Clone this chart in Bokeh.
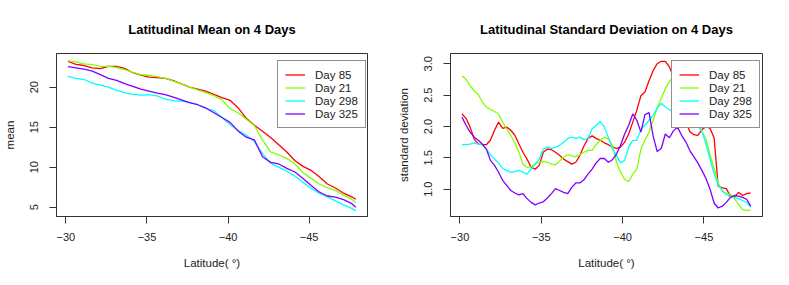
from bokeh.plotting import figure
from bokeh.layouts import row
from bokeh.models import Range1d, FixedTicker, Legend, LegendItem
from bokeh.embed import file_html
from bokeh.resources import INLINE

# ---------------- data ----------------
days = ["Day 85", "Day 21", "Day 298", "Day 325"]
colors = ["#FF0000", "#80FF00", "#00FFFF", "#8000FF"]

x_ticks = [-30, -35, -40, -45]
x_tick_labels = ["\u221230", "\u221235", "\u221240", "\u221245"]
mean_ticks = [5, 10, 15, 20]
mean_tick_labels = ["5", "10", "15", "20"]
sd_ticks = [1.0, 1.5, 2.0, 2.5, 3.0]
sd_tick_labels = ["1.0", "1.5", "2.0", "2.5", "3.0"]

lat_mean = [-30.125, -30.625, -31.125, -31.625, -32.125, -32.625, -33.125, -33.625,
            -34.125, -34.625, -35.125, -35.625, -36.125, -36.625, -37.125, -37.625,
            -38.125, -38.625, -39.125, -39.625, -40.125, -40.625, -41.125, -41.625,
            -42.125, -42.625, -43.125, -43.625, -44.125, -44.625, -45.125, -45.625,
            -46.125, -46.625, -47.125, -47.625, -47.875]

mean_day85 = [23.2, 22.85, 22.7, 22.4, 22.3, 22.6, 22.6, 22.35, 21.8, 21.5, 21.25, 21.2,
              21.1, 20.8, 20.4, 20.0, 19.75, 19.5, 19.1, 18.7, 18.35, 17.4, 16.1, 15.25,
              14.5, 13.7, 12.8, 11.9, 10.8, 10.1, 9.6, 8.8, 7.9, 7.4, 6.75, 6.3, 6.0]
mean_day21 = [23.3, 23.15, 22.9, 22.8, 22.6, 22.6, 22.45, 22.2, 21.85, 21.55, 21.45, 21.3,
              21.1, 20.75, 20.4, 20.0, 19.65, 19.3, 18.95, 18.4, 17.3, 16.8, 16.0, 15.2,
              13.4, 11.9, 11.55, 11.1, 10.4, 9.3, 8.6, 7.9, 7.45, 7.1, 6.5, 6.0, 5.6]
mean_day298 = [21.35, 21.1, 20.95, 20.5, 20.25, 20.0, 19.6, 19.3, 19.1, 19.0, 19.05, 18.9,
               18.5, 18.3, 18.25, 18.05, 17.8, 17.35, 17.05, 16.2, 15.3, 14.6, 14.0, 13.2,
               11.7, 10.5, 10.0, 9.5, 8.9, 8.1, 7.35, 6.75, 6.3, 5.8, 5.3, 4.85, 4.55]
mean_day325 = [22.55, 22.4, 22.25, 22.0, 21.55, 21.1, 20.85, 20.45, 20.1, 19.75, 19.5, 19.25,
               19.05, 18.75, 18.4, 18.05, 17.8, 17.4, 16.8, 16.2, 15.6, 14.5, 13.75, 13.4,
               11.3, 10.6, 10.4, 9.85, 9.4, 8.6, 7.7, 6.9, 6.4, 6.25, 5.95, 5.45, 5.0]

lat_sd = [-30.125, -30.375, -30.625, -30.875, -31.125, -31.375, -31.625, -31.875,
          -32.125, -32.375, -32.625, -32.875, -33.125, -33.375, -33.625, -33.875,
          -34.125, -34.375, -34.625, -34.875, -35.125, -35.375, -35.625, -35.875,
          -36.125, -36.375, -36.625, -36.875, -37.125, -37.375, -37.625, -37.875,
          -38.125, -38.375, -38.625, -38.875, -39.125, -39.375, -39.625, -39.875,
          -40.125, -40.375, -40.625, -40.875, -41.125, -41.375, -41.625, -41.875,
          -42.125, -42.375, -42.625, -42.875, -43.125, -43.375, -43.625, -43.875,
          -44.125, -44.375, -44.625, -44.875, -45.125, -45.375, -45.625, -45.875,
          -46.125, -46.375, -46.625, -46.875, -47.125, -47.375, -47.625, -47.875]

sd_day85 = [2.20, 2.13, 1.99, 1.80, 1.72, 1.71, 1.71, 1.78, 1.94, 2.07, 1.97, 1.99,
            1.94, 1.86, 1.72, 1.59, 1.48, 1.35, 1.32, 1.38, 1.59, 1.64, 1.63, 1.59,
            1.54, 1.48, 1.44, 1.40, 1.43, 1.54, 1.69, 1.81, 1.85, 1.81, 1.78, 1.74,
            1.71, 1.67, 1.65, 1.67, 1.75, 1.88, 2.07, 2.26, 2.49, 2.55, 2.73, 2.89,
            3.00, 3.04, 3.04, 2.95, 2.80, 2.60, 2.35, 2.10, 1.92, 1.87, 1.86, 1.95,
            2.00, 1.97, 1.82, 1.05, 1.02, 1.01, 0.89, 0.88, 0.95, 0.90, 0.93, 0.94]
sd_day21 = [2.81, 2.75, 2.65, 2.57, 2.51, 2.39, 2.31, 2.27, 2.24, 2.20, 2.07, 1.96,
            1.86, 1.74, 1.59, 1.40, 1.35, 1.36, 1.40, 1.43, 1.44, 1.43, 1.40, 1.39,
            1.45, 1.51, 1.55, 1.53, 1.52, 1.55, 1.59, 1.62, 1.62, 1.71, 1.78, 1.83,
            1.80, 1.70, 1.43, 1.27, 1.16, 1.12, 1.24, 1.32, 1.64, 1.78, 1.91, 2.10,
            2.30, 2.45, 2.60, 2.72, 2.80, 2.85, 2.75, 2.55, 2.35, 2.20, 2.05, 1.92,
            1.80, 1.55, 1.33, 1.10, 0.97, 0.93, 0.92, 0.85, 0.76, 0.68, 0.66, 0.67]
sd_day298 = [1.71, 1.71, 1.72, 1.74, 1.72, 1.71, 1.64, 1.55, 1.48, 1.42, 1.33, 1.30,
             1.27, 1.28, 1.30, 1.27, 1.24, 1.32, 1.40, 1.48, 1.64, 1.67, 1.65, 1.67,
             1.70, 1.75, 1.81, 1.83, 1.81, 1.83, 1.79, 1.81, 1.96, 2.02, 2.08, 1.99,
             1.83, 1.64, 1.54, 1.42, 1.46, 1.67, 1.78, 1.78, 1.95, 2.02, 2.10, 2.18,
             2.29, 2.37, 2.31, 2.27, 2.25, 2.20, 2.20, 2.15, 2.10, 2.05, 2.00, 1.93,
             1.72, 1.48, 1.25, 1.07, 0.98, 0.92, 0.88, 0.87, 0.85, 0.82, 0.79, 0.71]
sd_day325 = [2.15, 2.02, 1.91, 1.83, 1.78, 1.72, 1.64, 1.46, 1.38, 1.27, 1.14, 1.06,
             0.98, 0.94, 0.91, 0.93, 0.85, 0.79, 0.75, 0.78, 0.80, 0.86, 0.93, 1.01,
             0.98, 0.95, 0.93, 1.03, 1.10, 1.10, 1.15, 1.24, 1.32, 1.42, 1.49, 1.49,
             1.43, 1.47, 1.56, 1.70, 1.88, 2.02, 2.20, 2.10, 1.91, 2.19, 2.22, 1.85,
             1.60, 1.65, 1.88, 1.82, 1.93, 1.99, 1.86, 1.76, 1.62, 1.52, 1.42, 1.30,
             1.17, 1.00, 0.78, 0.70, 0.73, 0.79, 0.87, 0.90, 0.89, 0.87, 0.84, 0.73]

FONT = "Liberation Sans"
TXT = "#222222"


def make_panel(title, ylabel, lat, series, yticks, ylabels, yr, width, bl, br,
               label_standoff, legend_loc):
    p = figure(width=width, height=285, output_backend="svg", toolbar_location=None,
               x_range=Range1d(-29.42, -48.6), y_range=Range1d(*yr),
               min_border_left=bl, min_border_right=br,
               min_border_top=53, min_border_bottom=69)
    p.background_fill_color = "white"
    p.border_fill_color = "white"
    p.outline_line_color = "#333333"
    p.outline_line_width = 1
    p.grid.visible = False

    p.title.text = title
    p.title.align = "center"
    p.title.text_font = FONT
    p.title.text_font_size = "13px"
    p.title.text_font_style = "bold"
    p.title.text_color = "black"
    p.title.text_line_height = 0.6
    p.title.standoff = 34

    for ax in (p.xaxis[0], p.yaxis[0]):
        ax.axis_line_color = "#333333"
        ax.major_tick_line_color = "#333333"
        ax.major_tick_out = 7
        ax.major_tick_in = 0
        ax.minor_tick_line_color = None
        ax.major_label_text_font = FONT
        ax.major_label_text_font_size = "11px"
        ax.major_label_text_color = TXT
        ax.axis_label_text_font = FONT
        ax.axis_label_text_font_size = "11.5px"
        ax.axis_label_text_font_style = "normal"
        ax.axis_label_text_color = TXT

    p.xaxis.ticker = FixedTicker(ticks=x_ticks)
    p.xaxis.major_label_overrides = dict(zip(x_ticks, x_tick_labels))
    p.xaxis.major_label_standoff = 9
    p.xaxis.axis_label = "Latitude( \u00b0)"
    p.xaxis.axis_label_standoff = 13

    p.yaxis.ticker = FixedTicker(ticks=yticks)
    p.yaxis.major_label_overrides = dict(zip(yticks, ylabels))
    p.yaxis.major_label_orientation = "vertical"
    p.yaxis.major_label_standoff = 11
    p.yaxis.axis_label = ylabel
    p.yaxis.axis_label_standoff = label_standoff

    items = []
    for name, col, vals in zip(days, colors, series):
        r = p.line(lat, vals, line_color=col, line_width=1.3)
        items.append(LegendItem(label=name, renderers=[r]))

    leg = Legend(items=items, location=legend_loc, margin=0, padding=7, spacing=0,
                 label_height=13, glyph_height=13, glyph_width=20, label_standoff=10,
                 label_text_font=FONT, label_text_font_size="11.5px",
                 label_text_color=TXT, border_line_color="#222222",
                 border_line_width=1, background_fill_color="white",
                 background_fill_alpha=1.0)
    p.add_layout(leg)
    return p


p1 = make_panel("Latitudinal Mean on 4 Days", "mean", lat_mean,
                [mean_day85, mean_day21, mean_day298, mean_day325],
                mean_ticks, mean_tick_labels, (3.84, 24.2), 394, 55, 27, 12, (221, 88))
p2 = make_panel("Latitudinal Standard Deviation on 4 Days", "standard deviation", lat_sd,
                [sd_day85, sd_day21, sd_day298, sd_day325],
                sd_ticks, sd_tick_labels, (0.565, 3.164), 395, 56, 27, 12, (221, 88))

layout = row(p1, p2)
open("out.html", "w").write(file_html(layout, INLINE))
